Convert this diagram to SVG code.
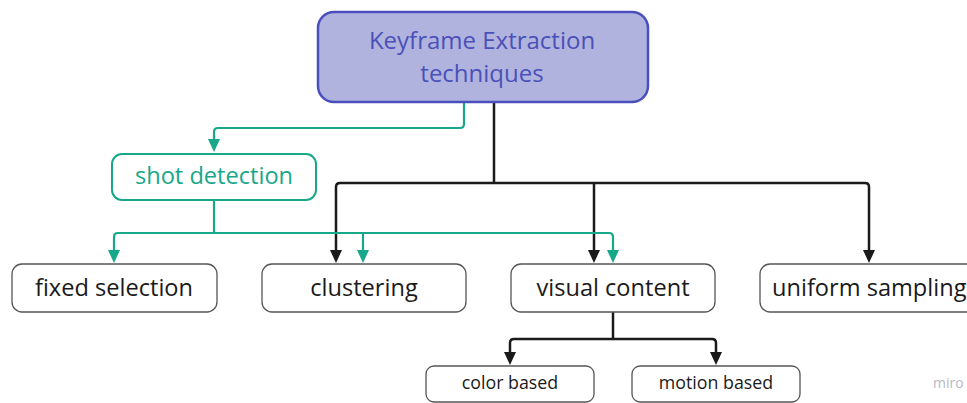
<svg xmlns="http://www.w3.org/2000/svg" width="967" height="403" viewBox="0 0 967 403">
<style>
.box{fill:#fff;stroke:#555;stroke-width:1.3}
.t{font-family:"Open Sans","Noto Sans",sans-serif;fill:#1a1a1a;text-anchor:middle}
.k{fill:none;stroke:#1a1a1a;stroke-width:2.5;stroke-linejoin:round}
.g{fill:none;stroke:#17a88a;stroke-width:2.2;stroke-linejoin:round}
</style>
<rect width="967" height="403" fill="#fff"/>
<g id="connectors">
<path class="g" d="M464,102 V124 Q464,128 460,128 H218 Q214,128 214,132 V140"/>
<path d="M208,139 L220,139 L214,152 Z" fill="#17a88a"/>
<path class="k" d="M494,102 V183"/>
<path class="k" d="M336,250 V187 Q336,183 340,183 H865 Q869,183 869,187 V250"/>
<path class="k" d="M594,183 V250"/>
<path d="M330,250 L342,250 L336,263 Z" fill="#1a1a1a"/>
<path d="M588,250 L600,250 L594,263 Z" fill="#1a1a1a"/>
<path d="M863,250 L875,250 L869,263 Z" fill="#1a1a1a"/>
<path class="g" d="M214,200 V233"/>
<path class="g" d="M114,251 V237 Q114,233 118,233 H609 Q613,233 613,237 V251"/>
<path class="g" d="M363,233 V251"/>
<path d="M108,250 L120,250 L114,263 Z" fill="#17a88a"/>
<path d="M357,250 L369,250 L363,263 Z" fill="#17a88a"/>
<path d="M607,250 L619,250 L613,263 Z" fill="#17a88a"/>
<path class="k" d="M613,312 V339"/>
<path class="k" d="M510,353 V343 Q510,339 514,339 H712 Q716,339 716,343 V353"/>
<path d="M504,352 L516,352 L510,365 Z" fill="#1a1a1a"/>
<path d="M710,352 L722,352 L716,365 Z" fill="#1a1a1a"/>
</g>
<g id="root">
<rect x="318" y="12" width="330" height="90" rx="16" fill="#b1b3df" stroke="#4a4fbd" stroke-width="2.5"/>
<text class="t" x="482" y="49" font-size="24" style="fill:#4a50b8">Keyframe Extraction</text>
<text class="t" x="482" y="82" font-size="24" style="fill:#4a50b8">techniques</text>
</g>
<g id="shot">
<rect x="112" y="154" width="204" height="46" rx="10" fill="#fff" stroke="#17a88a" stroke-width="2"/>
<text class="t" x="214" y="184" font-size="23.6" style="fill:#17a88a">shot detection</text>
</g>
<g id="fixed">
<rect class="box" x="12" y="264" width="205" height="48" rx="10"/>
<text class="t" x="114" y="296" font-size="23.6">fixed selection</text>
</g>
<g id="clustering">
<rect class="box" x="262" y="264" width="204" height="48" rx="10"/>
<text class="t" x="364" y="296" font-size="23.6">clustering</text>
</g>
<g id="visual">
<rect class="box" x="511" y="264" width="204" height="48" rx="10"/>
<text class="t" x="613" y="296" font-size="23.6">visual content</text>
</g>
<g id="uniform">
<rect class="box" x="760" y="264" width="230" height="48" rx="10"/>
<text class="t" x="772" y="296" font-size="23.6" style="text-anchor:start">uniform sampling</text>
</g>
<g id="color">
<rect class="box" x="426" y="366" width="168" height="36" rx="8"/>
<text class="t" x="510" y="389" font-size="17.8">color based</text>
</g>
<g id="motion">
<rect class="box" x="632" y="366" width="168" height="36" rx="8"/>
<text class="t" x="716" y="389" font-size="17.8">motion based</text>
</g>
<text x="933" y="388" font-family="Open Sans, sans-serif" font-size="14" fill="#b8b8c4">miro</text>
</svg>
